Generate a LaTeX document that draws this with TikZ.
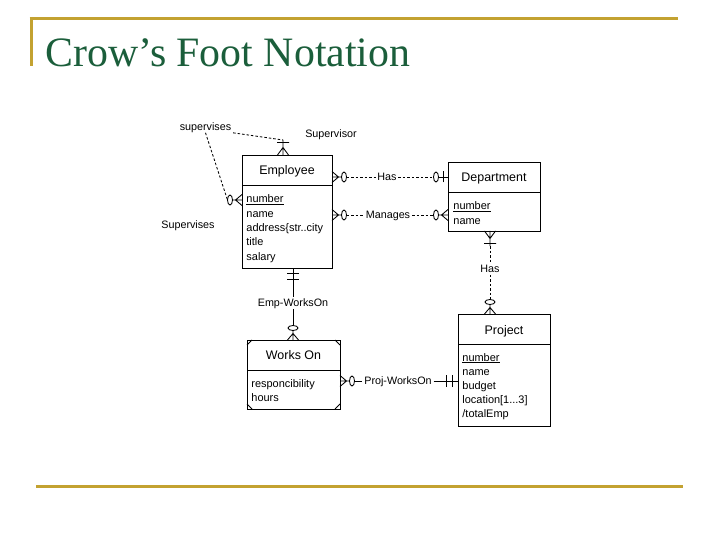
\documentclass[tikz,border=0pt]{standalone}
\usepackage{fontspec}
\setmainfont{Liberation Sans}
\newfontfamily\serifttl{Liberation Serif}
\usetikzlibrary{calc}
\definecolor{gold}{HTML}{C3A231}
\definecolor{ttlgreen}{HTML}{1B5E3B}
\tikzset{
  zmany/.pic={
    \draw (0,0)--(6.5,0) (6.5,0)--(0,-5.5) (6.5,0)--(0,5.5) (6.5,0)--(9.5,0);
    \draw (12,0) ellipse [x radius=2.5, y radius=5];
    \coordinate (-end) at (14.5,0);},
  zone/.pic={
    \draw (0,0)--(9.5,0) (5,-5.5)--(5,5.5);
    \draw (12,0) ellipse [x radius=2.5, y radius=5];
    \coordinate (-end) at (14.5,0);},
  onemany/.pic={
    \draw (0,0)--(15,0) (7.5,0)--(0,-5.5) (7.5,0)--(0,5.5) (12.5,-6)--(12.5,6);
    \coordinate (-end) at (15,0);},
  oneone/.pic={
    \draw (0,0)--(15,0) (5.5,-6)--(5.5,6) (11.5,-6)--(11.5,6);
    \coordinate (-end) at (15,0);},
}
\begin{document}
\begin{tikzpicture}[x=1bp,y=-1bp,line width=0.85bp,
  ent/.style 2 args={draw,line width=0.95bp,minimum width=#1,minimum height=#2,inner sep=0pt,outer sep=0pt},
  etitle/.style={anchor=base,inner sep=0pt,font=\fontsize{12.5}{14}\selectfont},
  attr/.style={anchor=base west,inner sep=0pt,font=\fontsize{11}{14}\selectfont},
  lbl/.style={inner sep=1.5bp,text height=7.8bp,text depth=0bp,font=\fontsize{10.8}{14}\selectfont},
  dsh/.style={dash pattern=on 2.5bp off 2bp},
  rule/.style={draw=gold,line width=3bp}]
\useasboundingbox (0,0) rectangle (720,540);
% title and rules
\draw[rule] (29.5,18.5) -- (678,18.5);
\draw[rule] (31,17) -- (31,66);
\draw[rule] (36,486) -- (683,486);
\node[anchor=base west,inner sep=0pt,text=ttlgreen,font=\serifttl\fontsize{42}{42}\selectfont] (ttl) at (45,67) {Crow’s Foot Notation};
% Employee
\node[ent={90bp}{113bp}] (emp) at (287,211.5) {};
\draw (emp.west |- 0,185) -- (emp.east |- 0,185);
\node[etitle] (empT) at (287,175) {Employee};
\foreach \t [count=\i] in {\underline{number},name,address\{str..city,title,salary}
  \node[attr] (empA\i) at (246,{203+14.3*(\i-1)}) {\t};
% Department
\node[ent={92bp}{69bp}] (dept) at (494,196.5) {};
\draw (dept.west |- 0,192) -- (dept.east |- 0,192);
\node[etitle] (deptT) at (494,182) {Department};
\node[attr] (deptA1) at (453,210) {\underline{number}};
\node[attr] (deptA2) at (453,224.2) {name};
% Project
\node[ent={92bp}{112bp}] (proj) at (504,370) {};
\draw (proj.west |- 0,344) -- (proj.east |- 0,344);
\node[etitle] (projT) at (504,334) {Project};
\node[attr] (projA1) at (462,361) {\underline{number}};
\node[attr] (projA2) at (462,375.2) {name};
\node[attr] (projA3) at (462,389.4) {budget};
\node[attr] (projA4) at (462,403.6) {location[1...3]};
\node[attr] (projA5) at (462,417.8) {/totalEmp};
% Works On
\node[ent={93bp}{69bp}] (wo) at (293.5,374.5) {};
\draw (wo.west |- 0,370) -- (wo.east |- 0,370);
\node[etitle] (woT) at (293.5,359) {Works On};
\node[attr] (woA1) at (251,387) {responcibility};
\node[attr] (woA2) at (251,401.2) {hours};
\draw (wo.north west) ++(0,5) -- ++(5,-5);
\draw (wo.north east) ++(-5,0) -- ++(5,5);
\draw (wo.south west) ++(0,-5) -- ++(5,5);
\draw (wo.south east) ++(-5,0) -- ++(5,-5);
% labels
\node[lbl] (sv) at (205.5,127) {supervises};
\node[lbl] (svr) at (331,134) {Supervisor};
\node[lbl] (sve) at (188,225) {Supervises};
\node[lbl] (has1) at (387,177) {Has};
\node[lbl] (mng) at (388,215) {Manages};
\node[lbl] (has2) at (490,269) {Has};
\node[lbl] (ewo) at (293,303) {Emp-WorksOn};
\node[lbl] (pwo) at (398,381) {Proj-WorksOn};
% markers
\pic[rotate=90] (mSt) at ($(emp.north west)+(41,0)$) {onemany};
\pic[rotate=180] (mSl) at (emp.west |- 0,200) {zmany};
\pic (mHe) at (emp.east |- has1) {zmany};
\pic[rotate=180] (mHd) at (dept.west |- has1) {zone};
\pic (mMe) at (emp.east |- mng) {zmany};
\pic[rotate=180] (mMd) at (dept.west |- mng) {zmany};
\pic[rotate=-90] (mDd) at (dept.south -| has2) {onemany};
\pic[rotate=90] (mDp) at (proj.north -| has2) {zmany};
\pic[rotate=-90] (mEe) at (emp.south -| ewo) {oneone};
\pic[rotate=90] (mEw) at (wo.north -| ewo) {zmany};
\pic (mPw) at (wo.east |- pwo) {zmany};
\pic[rotate=180] (mPp) at (proj.west |- pwo) {oneone};
% connectors
\draw[dsh] (sv.south) -- (mSl-end);
\draw[dsh] (sv.south east) -- (mSt-end);
\draw[dsh] (mHe-end) -- (has1.west);
\draw[dsh] (has1.east) -- (mHd-end);
\draw[dsh] (mMe-end) -- (mng.west);
\draw[dsh] (mng.east) -- (mMd-end);
\draw[dsh] (mDd-end) -- (has2.north);
\draw[dsh] (has2.south) -- (mDp-end);
\draw (mEe-end) -- (ewo.north);
\draw (ewo.south) -- (mEw-end);
\draw (mPw-end) -- (pwo.west);
\draw (pwo.east) -- (mPp-end);
\end{tikzpicture}
\end{document}
